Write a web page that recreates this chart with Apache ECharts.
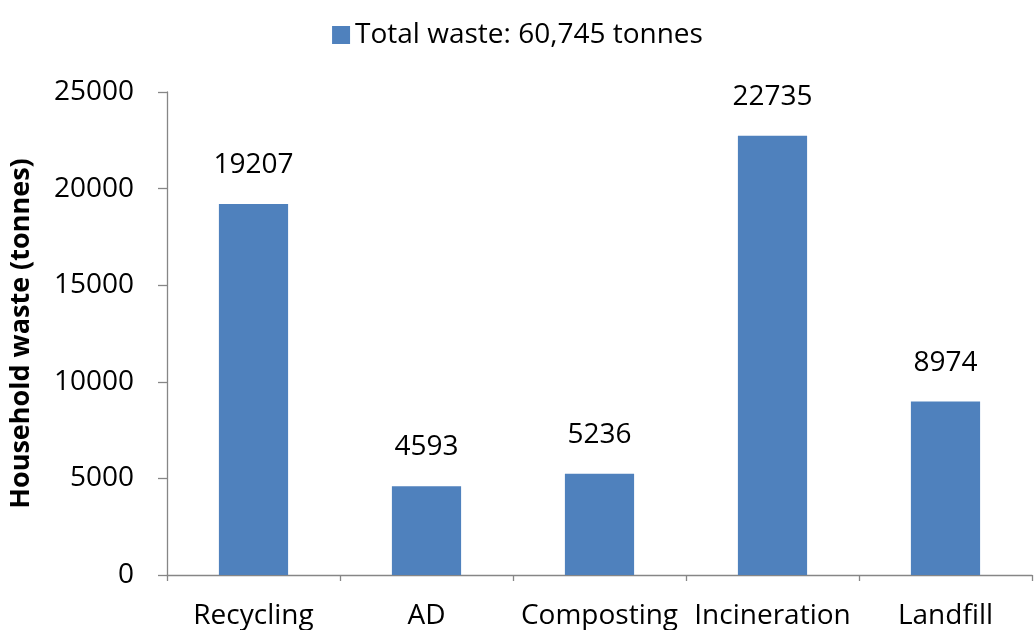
<!DOCTYPE html>
<html><head><meta charset="utf-8">
<script src="https://cdn.jsdelivr.net/npm/echarts@6/dist/echarts.min.js"></script>
<style>html,body{margin:0;padding:0;background:#fff}#c{width:1035px;height:630px}</style>
</head><body><div id="c"></div>
<script>
const categories = ['Recycling', 'AD', 'Composting', 'Incineration', 'Landfill'];
const values = [19207, 4593, 5236, 22735, 8974];
const seriesName = 'Total waste: 60,745 tonnes';
const yTitle = 'Household waste (tonnes)';
const FONT = '"Open Sans", sans-serif';
const chart = echarts.init(document.getElementById('c'));
chart.setOption({
  animation: false,
  textStyle: { fontFamily: FONT },
  legend: {
    top: 16, left: 'center', itemWidth: 18, itemHeight: 18, itemGap: 9,
    icon: 'rect',
    textStyle: { fontSize: 28, color: '#000', fontFamily: FONT }
  },
  grid: { left: 162, right: 3, top: 92, bottom: 54, containLabel: false },
  xAxis: {
    type: 'category', data: categories,
    axisLine: { lineStyle: { color: '#868686', width: 1.3 } },
    axisTick: { show: true, length: 6, inside: false, alignWithLabel: false, lineStyle: { color: '#868686', width: 1.3 } },
    axisLabel: { fontSize: 28, color: '#000', margin: 27, fontFamily: FONT, interval: 0 },
    splitLine: { show: false }
  },
  yAxis: {
    type: 'value', min: 0, max: 25000, interval: 5000,
    name: yTitle, nameLocation: 'middle', nameGap: 132, nameRotate: 90,
    nameTextStyle: { fontSize: 27, fontWeight: 'bold', color: '#000', fontFamily: FONT },
    axisLine: { show: true, lineStyle: { color: '#868686', width: 1.3 } },
    axisTick: { show: true, length: 9, lineStyle: { color: '#868686', width: 1.3 } },
    axisLabel: { fontSize: 28, color: '#000', margin: 33, fontFamily: FONT, formatter: v => String(v) },
    splitLine: { show: false }
  },
  series: [{
    name: seriesName, type: 'bar', data: values, barWidth: '40%',
    itemStyle: { color: '#4F81BD' },
    label: { show: true, position: 'top', distance: 25, fontSize: 28, color: '#000', fontFamily: FONT }
  }]
});
</script></body></html>
